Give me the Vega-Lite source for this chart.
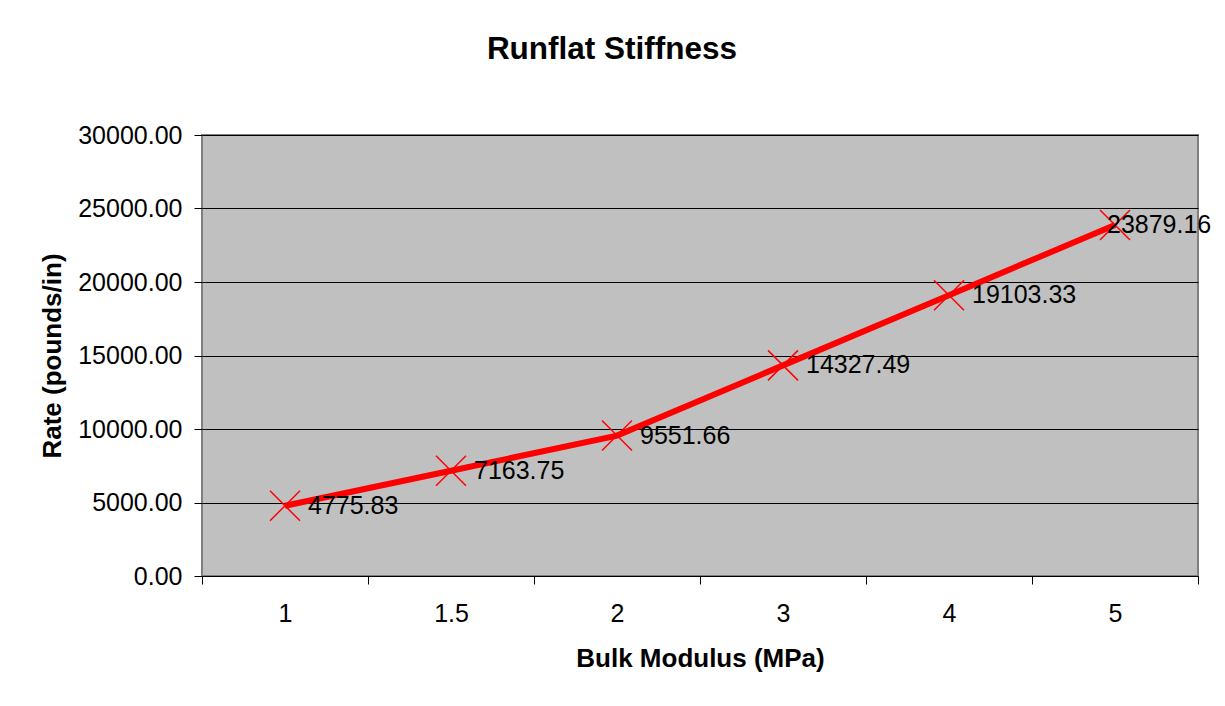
{
  "$schema": "https://vega.github.io/schema/vega-lite/v6.json",
  "width": 996,
  "height": 441,
  "autosize": {"type": "none"},
  "padding": {"left": 202, "top": 135, "right": 27, "bottom": 130},
  "background": "white",
  "title": {
    "text": "Runflat Stiffness",
    "font": "Liberation Sans",
    "fontSize": 31.5,
    "fontWeight": "bold",
    "color": "black",
    "anchor": "middle",
    "frame": "group",
    "dx": -88,
    "offset": 58
  },
  "config": {
    "font": "Liberation Sans",
    "view": {"fill": "#C0C0C0", "stroke": "#808080", "strokeWidth": 2},
    "axis": {
      "labelFont": "Liberation Sans",
      "titleFont": "Liberation Sans",
      "labelColor": "black",
      "titleColor": "black",
      "tickColor": "black",
      "domain": false
    }
  },
  "data": {
    "values": [
      {"modulus": "1", "rate": 4775.83},
      {"modulus": "1.5", "rate": 7163.75},
      {"modulus": "2", "rate": 9551.66},
      {"modulus": "3", "rate": 14327.49},
      {"modulus": "4", "rate": 19103.33},
      {"modulus": "5", "rate": 23879.16}
    ]
  },
  "encoding": {
    "x": {
      "field": "modulus",
      "type": "ordinal",
      "sort": null,
      "scale": {"type": "band", "paddingInner": 0, "paddingOuter": 0},
      "axis": {
        "title": "Bulk Modulus (MPa)",
        "titleFontSize": 26,
        "titleFontWeight": "bold",
        "titlePadding": 19,
        "labelFontSize": 25,
        "labelAngle": 0,
        "labelPadding": 17,
        "tickSize": 8,
        "tickWidth": 1,
        "tickBand": "extent",
        "grid": false
      }
    },
    "y": {
      "field": "rate",
      "type": "quantitative",
      "scale": {"domain": [0, 30000], "nice": false},
      "axis": {
        "title": "Rate (pounds/in)",
        "titleFontSize": 26,
        "titleFontWeight": "bold",
        "titlePadding": 12,
        "labelFontSize": 25,
        "labelPadding": 12,
        "tickSize": 8,
        "tickWidth": 1,
        "values": [0, 5000, 10000, 15000, 20000, 25000, 30000],
        "format": ".2f",
        "grid": true,
        "gridColor": "black",
        "gridWidth": 1,
        "gridOpacity": 1
      }
    }
  },
  "layer": [
    {
      "mark": {"type": "line", "color": "#FF0000", "strokeWidth": 6}
    },
    {
      "mark": {
        "type": "point",
        "shape": "M-1,-1L1,1M-1,1L1,-1",
        "size": 900,
        "filled": false,
        "stroke": "#FF0000",
        "strokeWidth": 1.5,
        "opacity": 1
      }
    },
    {
      "transform": [{"filter": "datum.rate < 23000"}],
      "mark": {
        "type": "text",
        "align": "left",
        "baseline": "middle",
        "dx": 23,
        "fontSize": 25,
        "color": "black"
      },
      "encoding": {
        "text": {"field": "rate", "type": "quantitative", "format": ".2f"}
      }
    },
    {
      "transform": [{"filter": "datum.rate >= 23000"}],
      "mark": {
        "type": "text",
        "align": "left",
        "baseline": "middle",
        "dx": -8,
        "fontSize": 25,
        "color": "black"
      },
      "encoding": {
        "text": {"field": "rate", "type": "quantitative", "format": ".2f"}
      }
    }
  ]
}
